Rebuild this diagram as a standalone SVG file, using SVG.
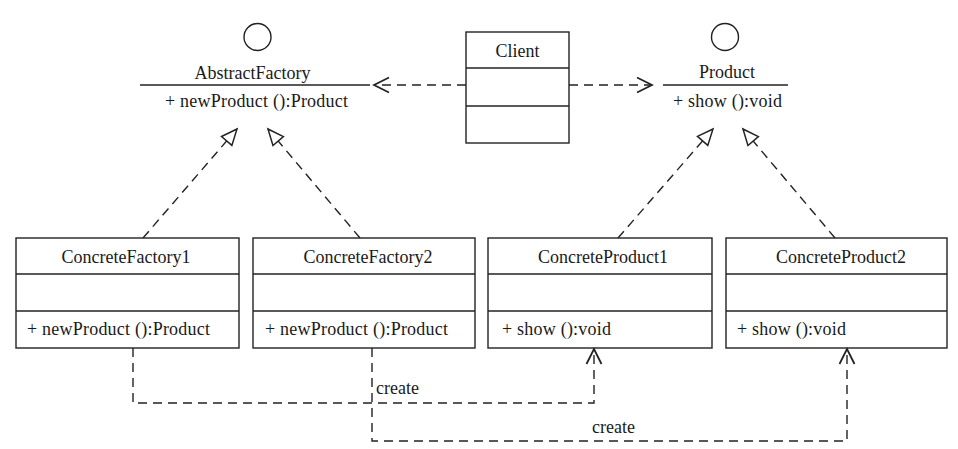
<svg xmlns="http://www.w3.org/2000/svg" width="958" height="449" viewBox="0 0 958 449">
<style>
text{font-family:"Liberation Serif","Times New Roman",serif;font-size:18px;fill:#1a1a1a}
.c{text-anchor:middle}
.box{fill:none;stroke:#222;stroke-width:1.4}
.ln{stroke:#222;stroke-width:1.4;fill:none}
.dash{stroke:#222;stroke-width:1.4;fill:none;stroke-dasharray:9 6}
</style>
<defs>
<marker id="tri" markerUnits="userSpaceOnUse" markerWidth="20" markerHeight="20" viewBox="-17 -8 19 16" refX="0" refY="0" orient="auto">
<path d="M0,0 L-15,-6.5 L-15,6.5 Z" fill="#fff" stroke="#222" stroke-width="1.4"/>
</marker>
<marker id="open" markerUnits="userSpaceOnUse" markerWidth="20" markerHeight="20" viewBox="-14 -8 16 16" refX="0" refY="0" orient="auto">
<path d="M-12,-6 L0,0 L-12,6" fill="none" stroke="#222" stroke-width="1.4"/>
</marker>
</defs>

<g id="AbstractFactory">
<circle cx="257.5" cy="37" r="13.5" class="box"/>
<line x1="140" y1="85" x2="370" y2="85" class="ln"/>
<text x="252.5" y="79" class="c">AbstractFactory</text>
<text x="165" y="107" textLength="183" lengthAdjust="spacing">+ newProduct ():Product</text>
</g>

<g id="Product">
<circle cx="725" cy="37" r="13.5" class="box"/>
<line x1="663" y1="85" x2="788" y2="85" class="ln"/>
<text x="727" y="78" class="c">Product</text>
<text x="673" y="107" textLength="109" lengthAdjust="spacing">+ show ():void</text>
</g>

<g id="Client">
<rect x="466" y="32" width="103" height="111" class="box"/>
<line x1="466" y1="68" x2="569" y2="68" class="ln"/>
<line x1="466" y1="106" x2="569" y2="106" class="ln"/>
<text x="517.5" y="57" class="c">Client</text>
</g>

<g id="ConcreteFactory1">
<rect x="16" y="238" width="223" height="110" class="box"/>
<line x1="16" y1="274" x2="239" y2="274" class="ln"/>
<line x1="16" y1="311" x2="239" y2="311" class="ln"/>
<text x="126" y="263" class="c">ConcreteFactory1</text>
<text x="27" y="335" textLength="183" lengthAdjust="spacing">+ newProduct ():Product</text>
</g>

<g id="ConcreteFactory2">
<rect x="253" y="238" width="222" height="110" class="box"/>
<line x1="253" y1="274" x2="475" y2="274" class="ln"/>
<line x1="253" y1="311" x2="475" y2="311" class="ln"/>
<text x="368" y="263" class="c">ConcreteFactory2</text>
<text x="265" y="335" textLength="183" lengthAdjust="spacing">+ newProduct ():Product</text>
</g>

<g id="ConcreteProduct1">
<rect x="488" y="238" width="224" height="110" class="box"/>
<line x1="488" y1="274" x2="712" y2="274" class="ln"/>
<line x1="488" y1="311" x2="712" y2="311" class="ln"/>
<text x="603" y="263" class="c">ConcreteProduct1</text>
<text x="502" y="335" textLength="109" lengthAdjust="spacing">+ show ():void</text>
</g>

<g id="ConcreteProduct2">
<rect x="726" y="238" width="221" height="110" class="box"/>
<line x1="726" y1="274" x2="947" y2="274" class="ln"/>
<line x1="726" y1="311" x2="947" y2="311" class="ln"/>
<text x="841" y="263" class="c">ConcreteProduct2</text>
<text x="737" y="335" textLength="109" lengthAdjust="spacing">+ show ():void</text>
</g>

<g id="connectors">
<line x1="466" y1="85" x2="374" y2="85" class="dash" marker-end="url(#open)"/>
<line x1="569" y1="85" x2="652" y2="85" class="dash" marker-end="url(#open)"/>
<line x1="143" y1="238" x2="237" y2="129" class="dash" marker-end="url(#tri)"/>
<line x1="360" y1="238" x2="268" y2="129" class="dash" marker-end="url(#tri)"/>
<line x1="618" y1="238" x2="713" y2="129" class="dash" marker-end="url(#tri)"/>
<line x1="835" y1="238" x2="743" y2="129" class="dash" marker-end="url(#tri)"/>
<polyline points="133,348 133,403 594,403 594,349" class="dash" marker-end="url(#open)"/>
<polyline points="372,348 372,441 847,441 847,349" class="dash" marker-end="url(#open)"/>
<text x="376" y="394">create</text>
<text x="592" y="433">create</text>
</g>
</svg>
